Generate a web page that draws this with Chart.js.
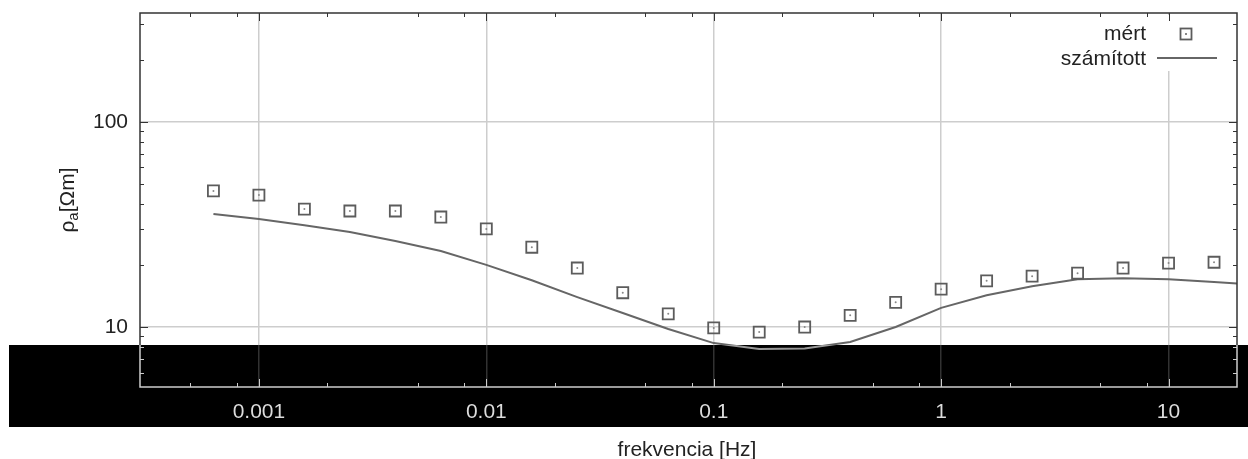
<!DOCTYPE html>
<html>
<head>
<meta charset="utf-8">
<script src="https://cdn.jsdelivr.net/npm/chart.js@4/dist/chart.umd.min.js"></script>
<style>
  html, body { margin: 0; padding: 0; background: #fff; }
  canvas { display: block; }
</style>
</head>
<body>
<canvas id="chart" width="1248" height="459"></canvas>
<script>
// frequencies [Hz]
const freqMeasured = [0.000631, 0.001, 0.001585, 0.002512, 0.003981, 0.00631, 0.01, 0.01585, 0.02512, 0.03981, 0.0631, 0.1, 0.1585, 0.2512, 0.3981, 0.631, 1, 1.585, 2.512, 3.981, 6.31, 10, 15.85];
const rhoMeasured = [46.1, 44.0, 37.6, 36.8, 36.8, 34.4, 30.1, 24.5, 19.4, 14.7, 11.6, 9.9, 9.45, 10.0, 11.4, 13.2, 15.3, 16.8, 17.7, 18.3, 19.4, 20.5, 20.7];

const freqModel = [0.000631, 0.001, 0.001585, 0.002512, 0.003981, 0.00631, 0.01, 0.01585, 0.02512, 0.03981, 0.0631, 0.1, 0.1585, 0.2512, 0.3981, 0.631, 1, 1.585, 2.512, 3.981, 6.31, 10, 15.85, 25.12];
const rhoModel = [35.6, 33.6, 31.4, 29.1, 26.3, 23.5, 20.1, 16.9, 14.0, 11.7, 9.78, 8.35, 7.81, 7.85, 8.45, 10.0, 12.4, 14.3, 15.8, 17.1, 17.3, 17.1, 16.6, 16.0];

const xTickValues = [0.001, 0.01, 0.1, 1, 10];
const yTickValues = [10, 100];
const xMinorTicks = [0.0005, 0.0008, 0.002, 0.005, 0.008, 0.02, 0.05, 0.08, 0.2, 0.5, 0.8, 2, 5, 8];
const yMinorTicks = [6, 7, 8, 9, 20, 30, 40, 50, 60, 70, 80, 90, 200, 300];

const legendLabels = ["mért", "számított"];
const xTitle = "frekvencia [Hz]";

const FONT = "'Liberation Sans', Arial, Helvetica, sans-serif";
const FS = 21;
const ink = "#222";
const markColor = "#5c5c5c";

const toPoints = (xs, ys) => xs.map((x, i) => ({ x: x, y: ys[i] }));

// white page so the inverted band works
const bgPlugin = {
  id: "bg",
  beforeDraw(chart) {
    const ctx = chart.ctx;
    ctx.save();
    ctx.fillStyle = "#fff";
    ctx.fillRect(0, 0, chart.width, chart.height);
    ctx.restore();
  }
};

const decorPlugin = {
  id: "decor",
  afterDatasetsDraw(chart) {
    const ctx = chart.ctx;
    const a = chart.chartArea;
    const xs = chart.scales.x, ys = chart.scales.y;
    ctx.save();

    // legend box (opaque, hides grid)
    ctx.fillStyle = "#fff";
    ctx.fillRect(1030, a.top + 2, 195, 56);
    ctx.fillStyle = ink;
    ctx.font = FS + "px " + FONT;
    ctx.textAlign = "right";
    ctx.textBaseline = "alphabetic";
    ctx.fillText(legendLabels[0], 1146, 40);
    ctx.fillText(legendLabels[1], 1146, 65);
    ctx.strokeStyle = markColor;
    ctx.lineWidth = 1.8;
    ctx.strokeRect(1180.5, 28.5, 11, 11);
    ctx.fillStyle = "#888";
    ctx.fillRect(1185, 33, 2, 2);
    ctx.strokeStyle = "#666";
    ctx.lineWidth = 2;
    ctx.beginPath();
    ctx.moveTo(1157, 58);
    ctx.lineTo(1217, 58);
    ctx.stroke();

    // frame
    ctx.strokeStyle = "#333";
    ctx.lineWidth = 1.5;
    ctx.strokeRect(a.left, a.top, a.right - a.left, a.bottom - a.top);

    // inward ticks on all four sides
    ctx.lineWidth = 1;
    ctx.beginPath();
    const tickX = (v, len) => {
      const p = Math.round(xs.getPixelForValue(v)) + 0.5;
      ctx.moveTo(p, a.bottom); ctx.lineTo(p, a.bottom - len);
      ctx.moveTo(p, a.top); ctx.lineTo(p, a.top + len);
    };
    const tickY = (v, len) => {
      const p = Math.round(ys.getPixelForValue(v)) + 0.5;
      ctx.moveTo(a.left, p); ctx.lineTo(a.left + len, p);
      ctx.moveTo(a.right, p); ctx.lineTo(a.right - len, p);
    };
    xMinorTicks.forEach(v => tickX(v, 4));
    xTickValues.forEach(v => tickX(v, 8));
    yMinorTicks.forEach(v => tickY(v, 4));
    yTickValues.forEach(v => tickY(v, 8));
    ctx.stroke();

    // axis titles
    ctx.fillStyle = ink;
    ctx.font = FS + "px " + FONT;
    ctx.textAlign = "center";
    ctx.textBaseline = "alphabetic";
    ctx.fillText(xTitle, 687, 456);

    ctx.translate(74, 200);
    ctx.rotate(-Math.PI / 2);
    const partRho = "ρ", partSub = "a", partRest = "[Ωm]";
    ctx.font = FS + "px " + FONT;
    const wRho = ctx.measureText(partRho).width;
    const wRest = ctx.measureText(partRest).width;
    ctx.font = "15px " + FONT;
    const wSub = ctx.measureText(partSub).width;
    const x0 = -(wRho + wSub + wRest) / 2;
    ctx.textAlign = "left";
    ctx.font = FS + "px " + FONT;
    ctx.fillText(partRho, x0, 0);
    ctx.font = "15px " + FONT;
    ctx.fillText(partSub, x0 + wRho, 4);
    ctx.font = FS + "px " + FONT;
    ctx.fillText(partRest, x0 + wRho + wSub, 0);
    ctx.restore();
  },
  afterDraw(chart) {
    // inverted band across the bottom
    const ctx = chart.ctx;
    ctx.save();
    ctx.globalCompositeOperation = "difference";
    ctx.fillStyle = "#fff";
    ctx.fillRect(9, 345, 1239, 82);
    ctx.restore();
  }
};

new Chart(document.getElementById("chart"), {
  type: "line",
  data: {
    datasets: [
      {
        label: legendLabels[0],
        data: toPoints(freqMeasured, rhoMeasured),
        showLine: false,
        pointStyle: "rect",
        pointRadius: 7.8,
        pointBorderWidth: 1.8,
        pointBorderColor: markColor,
        pointBackgroundColor: "rgba(0,0,0,0)",
        pointHoverRadius: 7.8
      },
      {
        label: "dot",
        data: toPoints(freqMeasured, rhoMeasured),
        showLine: false,
        pointStyle: "circle",
        pointRadius: 1,
        pointBorderWidth: 0,
        pointBackgroundColor: "#888"
      },
      {
        label: legendLabels[1],
        data: toPoints(freqModel, rhoModel),
        borderColor: "#666",
        borderWidth: 2,
        pointRadius: 0,
        tension: 0,
        fill: false
      }
    ]
  },
  options: {
    responsive: false,
    animation: false,
    devicePixelRatio: 1,
    layout: { padding: { top: 13, right: 11, left: 0, bottom: 0 } },
    plugins: {
      legend: { display: false },
      tooltip: { enabled: false }
    },
    scales: {
      x: {
        type: "logarithmic",
        min: 0.0003,
        max: 20,
        afterBuildTicks(scale) { scale.ticks = xTickValues.map(v => ({ value: v, major: true })); },
        afterFit(scale) { scale.height = 72; scale.paddingLeft = 0; scale.paddingRight = 0; },
        ticks: {
          padding: 13,
          color: ink,
          font: { family: FONT, size: FS },
          autoSkip: false,
          maxRotation: 0,
          callback: v => String(v)
        },
        grid: { color: "#cdcdcd", lineWidth: 1.5, drawTicks: false },
        border: { display: false }
      },
      y: {
        type: "logarithmic",
        min: 5.1,
        max: 340,
        afterBuildTicks(scale) { scale.ticks = yTickValues.map(v => ({ value: v, major: true })); },
        afterFit(scale) { scale.width = 140; scale.paddingTop = 0; scale.paddingBottom = 0; },
        ticks: {
          padding: 12,
          color: ink,
          font: { family: FONT, size: FS },
          callback: v => String(v)
        },
        grid: { color: "#cdcdcd", lineWidth: 1.5, drawTicks: false },
        border: { display: false }
      }
    }
  },
  plugins: [bgPlugin, decorPlugin]
});
</script>
</body>
</html>
